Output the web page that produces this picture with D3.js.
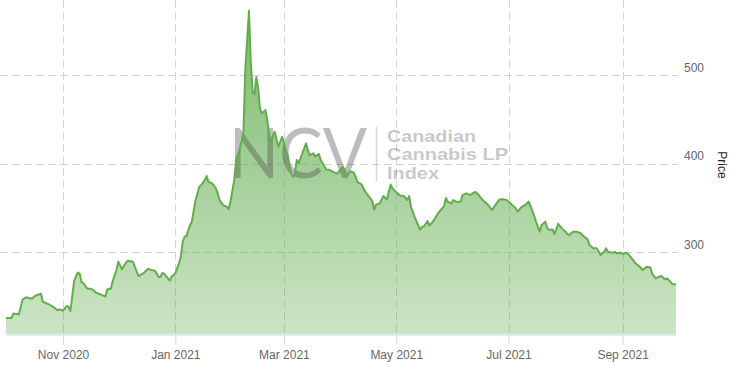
<!DOCTYPE html>
<html>
<head>
<meta charset="utf-8">
<script src="https://cdn.jsdelivr.net/npm/d3@7"></script>
<style>
  html, body { margin: 0; padding: 0; background: #fff; }
  svg { display: block; }
</style>
</head>
<body>
<svg id="chart" width="729" height="366"></svg>
<script>
// ---- data ----
const dates = [
"2020-10-01","2020-10-04","2020-10-05","2020-10-08","2020-10-10","2020-10-12","2020-10-15","2020-10-17","2020-10-20","2020-10-21",
"2020-10-23","2020-10-25","2020-10-27","2020-10-29","2020-10-30","2020-11-01","2020-11-03","2020-11-04","2020-11-05","2020-11-07",
"2020-11-09","2020-11-10","2020-11-11","2020-11-12","2020-11-14","2020-11-17","2020-11-19","2020-11-21","2020-11-24","2020-11-25",
"2020-11-27","2020-11-28","2020-11-30","2020-12-01","2020-12-03","2020-12-04","2020-12-06","2020-12-07","2020-12-09","2020-12-11",
"2020-12-12","2020-12-15","2020-12-17","2020-12-19","2020-12-21","2020-12-23","2020-12-24","2020-12-25","2020-12-26","2020-12-28",
"2020-12-29","2020-12-30","2021-01-01","2021-01-03","2021-01-04","2021-01-05","2021-01-06","2021-01-07","2021-01-09","2021-01-10",
"2021-01-11","2021-01-12","2021-01-14","2021-01-15","2021-01-17","2021-01-18","2021-01-19","2021-01-21","2021-01-23","2021-01-24",
"2021-01-25","2021-01-27","2021-01-29","2021-01-30","2021-01-31","2021-02-02","2021-02-03","2021-02-05","2021-02-07","2021-02-08",
"2021-02-10","2021-02-11","2021-02-12","2021-02-13","2021-02-14","2021-02-15","2021-02-16","2021-02-17","2021-02-19","2021-02-20",
"2021-02-21","2021-02-22","2021-02-23","2021-02-24","2021-02-25","2021-02-26","2021-02-27","2021-02-28","2021-03-01","2021-03-02",
"2021-03-03","2021-03-04","2021-03-05","2021-03-06","2021-03-07","2021-03-08","2021-03-09","2021-03-10","2021-03-11","2021-03-12",
"2021-03-13","2021-03-14","2021-03-15","2021-03-17","2021-03-18","2021-03-19","2021-03-20","2021-03-21","2021-03-22","2021-03-24",
"2021-03-26","2021-03-28","2021-03-30","2021-04-01","2021-04-02","2021-04-03","2021-04-04","2021-04-06","2021-04-08","2021-04-09",
"2021-04-10","2021-04-12","2021-04-14","2021-04-16","2021-04-18","2021-04-19","2021-04-20","2021-04-22","2021-04-24","2021-04-26",
"2021-04-28","2021-04-29","2021-05-01","2021-05-03","2021-05-05","2021-05-06","2021-05-07","2021-05-08","2021-05-09","2021-05-11",
"2021-05-14","2021-05-15","2021-05-16","2021-05-18","2021-05-19","2021-05-21","2021-05-24","2021-05-27","2021-05-28","2021-05-29",
"2021-05-31","2021-06-01","2021-06-03","2021-06-05","2021-06-06","2021-06-08","2021-06-10","2021-06-12","2021-06-13","2021-06-15",
"2021-06-17","2021-06-20","2021-06-22","2021-06-24","2021-06-26","2021-06-28","2021-06-30","2021-07-02","2021-07-05","2021-07-06",
"2021-07-08","2021-07-10","2021-07-12","2021-07-14","2021-07-15","2021-07-16","2021-07-18","2021-07-19","2021-07-21","2021-07-22",
"2021-07-23","2021-07-25","2021-07-26","2021-07-28","2021-07-30","2021-08-01","2021-08-02","2021-08-03","2021-08-05","2021-08-07",
"2021-08-09","2021-08-11","2021-08-13","2021-08-14","2021-08-16","2021-08-18","2021-08-19","2021-08-20","2021-08-22","2021-08-23",
"2021-08-24","2021-08-26","2021-08-28","2021-08-29","2021-08-31","2021-09-01","2021-09-03","2021-09-04","2021-09-06","2021-09-08",
"2021-09-10","2021-09-12","2021-09-14","2021-09-16","2021-09-17","2021-09-19","2021-09-20","2021-09-22","2021-09-24","2021-09-25",
"2021-09-27","2021-09-28","2021-09-30"
];
const prices = [
225.8,225.8,230.8,229.7,246.7,249.2,247.6,251.0,253.2,244.2,
242.4,240.5,237.8,234.5,235.6,234.0,239.3,238.5,233.7,267.6,
277.2,276.0,266.4,265.3,259.3,258.0,254.3,252.7,250.1,258.0,
259.1,267.6,280.0,289.4,280.8,284.5,290.5,290.2,289.4,278.1,
273.2,276.9,281.1,280.0,279.2,271.8,272.4,276.9,275.5,270.6,
267.9,272.4,276.3,287.6,295.0,312.0,317.6,318.4,330.8,334.6,
347.8,359.1,374.1,376.0,381.7,386.2,379.8,378.0,372.3,366.7,
359.1,353.4,351.5,348.9,358.0,381.7,404.3,416.7,435.9,506.0,
573.0,515.0,481.1,478.9,498.1,485.7,461.9,457.1,460.8,448.4,
432.5,424.6,432.5,436.3,426.9,419.3,425.0,430.6,424.6,415.6,
409.9,397.5,388.5,385.4,390.7,404.3,400.6,406.6,411.9,417.5,
423.2,415.6,409.9,411.9,408.3,409.9,411.1,404.3,400.6,393.6,
393.0,390.7,389.0,394.7,396.4,393.6,386.8,391.9,390.2,385.1,
379.4,377.2,369.3,363.6,358.0,348.4,354.0,355.4,363.6,359.9,
376.6,372.3,368.1,364.2,363.6,361.9,359.1,363.6,351.5,340.2,
325.5,328.9,329.2,335.4,330.3,334.8,345.0,352.3,361.4,357.2,
355.1,359.1,356.8,357.4,364.7,366.7,364.7,367.3,368.5,364.2,
359.1,353.4,347.8,354.0,359.7,360.0,359.3,355.4,349.7,345.9,
351.2,353.4,357.4,346.7,341.0,334.2,323.5,330.8,334.6,328.0,
325.5,325.8,320.7,332.3,327.1,323.3,320.7,319.5,323.3,323.3,
321.8,317.9,314.5,308.2,304.5,304.5,300.7,297.0,300.7,304.5,
300.7,299.5,300.3,298.9,299.5,298.1,299.5,298.1,293.2,287.6,
284.2,280.0,283.4,283.1,276.0,270.6,271.8,273.2,269.5,270.6,
266.8,264.2,264.0
];
const xTickDates = ["2020-11-01","2021-01-01","2021-03-01","2021-05-01","2021-07-01","2021-09-01"];
const xTickLabels = ["Nov 2020","Jan 2021","Mar 2021","May 2021","Jul 2021","Sep 2021"];
const yTickValues = [300, 400, 500];
const yTickLabels = ["300", "400", "500"];
const yTitle = "Price";
const watermarkBig = "NCV";
const watermarkLines = ["Canadian", "Cannabis LP", "Index"];
const watermarkWidths = [89, 121, 52];

// ---- setup ----
const parse = d3.timeParse("%Y-%m-%d");
const data = dates.map((d, i) => ({ date: parse(d), value: prices[i] }));

const svg = d3.select("#chart");
const plotLeft = 6, plotRight = 676, plotTop = 2, plotBottom = 334;

const x = d3.scaleTime()
  .domain([parse("2020-10-01"), parse("2021-09-30")])
  .range([plotLeft, plotRight]);
const y = d3.scaleLinear()
  .domain([207.7, 583])
  .range([plotBottom, plotTop]);

// gradient
const defs = svg.append("defs");
const grad = defs.append("linearGradient")
  .attr("id", "areaGrad")
  .attr("gradientUnits", "userSpaceOnUse")
  .attr("x1", 0).attr("y1", 0).attr("x2", 0).attr("y2", plotBottom);
grad.append("stop").attr("offset", "0%").attr("stop-color", "#63ad4f").attr("stop-opacity", 0.85);
grad.append("stop").attr("offset", "100%").attr("stop-color", "#63ad4f").attr("stop-opacity", 0.33);

// grid lines
const grid = svg.append("g");
grid.selectAll("line.h")
  .data(yTickValues)
  .join("line")
  .attr("class", "h")
  .attr("x1", 0).attr("x2", 678)
  .attr("y1", d => Math.round(y(d)) + 0.5)
  .attr("y2", d => Math.round(y(d)) + 0.5)
  .attr("stroke", "#d4d4d4")
  .attr("stroke-width", 1)
  .attr("stroke-dasharray", "8,4");

grid.selectAll("line.v")
  .data(xTickDates)
  .join("line")
  .attr("class", "v")
  .attr("x1", d => Math.round(x(parse(d))) + 0.5)
  .attr("x2", d => Math.round(x(parse(d))) + 0.5)
  .attr("y1", 0).attr("y2", plotBottom)
  .attr("stroke", "#d4d4d4")
  .attr("stroke-width", 1)
  .attr("stroke-dasharray", "8,4");

// area
const area = d3.area()
  .x(d => x(d.date))
  .y0(plotBottom)
  .y1(d => y(d.value));
svg.append("path")
  .datum(data)
  .attr("d", area)
  .attr("fill", "url(#areaGrad)");

// watermark
const wm = svg.append("g").attr("pointer-events", "none");
wm.append("text")
  .attr("x", 229)
  .attr("y", 178)
  .attr("font-family", "Lato, 'Liberation Sans', Arial, sans-serif")
  .attr("font-weight", 400)
  .attr("font-size", 69)
  .attr("textLength", 138)
  .attr("lengthAdjust", "spacingAndGlyphs")
  .attr("fill", "rgba(70,70,70,0.36)")
  .text(watermarkBig);
wm.append("line")
  .attr("x1", 376.5).attr("x2", 376.5)
  .attr("y1", 127).attr("y2", 181)
  .attr("stroke", "rgba(120,120,120,0.3)")
  .attr("stroke-width", 1.5);
wm.selectAll("text.sub")
  .data(watermarkLines)
  .join("text")
  .attr("class", "sub")
  .attr("x", 387)
  .attr("y", (d, i) => 142 + i * 18.4)
  .attr("font-family", "'Liberation Sans', Arial, sans-serif")
  .attr("font-weight", "bold")
  .attr("font-size", 16.2)
  .attr("textLength", (d, i) => watermarkWidths[i])
  .attr("lengthAdjust", "spacingAndGlyphs")
  .attr("fill", "rgba(110,110,110,0.38)")
  .text(d => d);

// line
const line = d3.line()
  .x(d => x(d.date))
  .y(d => y(d.value));
svg.append("path")
  .datum(data)
  .attr("d", line)
  .attr("fill", "none")
  .attr("stroke", "#62ad4d")
  .attr("stroke-width", 2)
  .attr("stroke-linejoin", "round");

// x axis
const xAxis = d3.axisBottom(x)
  .tickValues(xTickDates.map(parse))
  .tickFormat((d, i) => xTickLabels[i])
  .tickSizeInner(10)
  .tickSizeOuter(0)
  .tickPadding(6);
const gx = svg.append("g")
  .attr("transform", `translate(0,${plotBottom + 0.5})`)
  .call(xAxis);
gx.select(".domain").attr("stroke", "#ccd6eb");
gx.selectAll(".tick line").attr("stroke", "#ccd6eb");
gx.selectAll(".tick text")
  .attr("fill", "#666")
  .attr("font-family", "'Liberation Sans', Arial, sans-serif")
  .attr("font-size", 12);

// y axis (right)
const yAxis = d3.axisRight(y)
  .tickValues(yTickValues)
  .tickFormat((d, i) => yTickLabels[i])
  .tickSize(0)
  .tickPadding(0);
const gy = svg.append("g")
  .attr("transform", `translate(684,0)`)
  .call(yAxis);
gy.select(".domain").remove();
gy.selectAll(".tick text")
  .attr("fill", "#666")
  .attr("font-family", "'Liberation Sans', Arial, sans-serif")
  .attr("font-size", 12)
  .attr("dy", "-4")
  .attr("x", 0);

// y title
svg.append("text")
  .attr("transform", "translate(718,165) rotate(90)")
  .attr("text-anchor", "middle")
  .attr("font-family", "'Liberation Sans', Arial, sans-serif")
  .attr("font-size", 12)
  .attr("fill", "#222")
  .text(yTitle);
</script>
</body>
</html>
